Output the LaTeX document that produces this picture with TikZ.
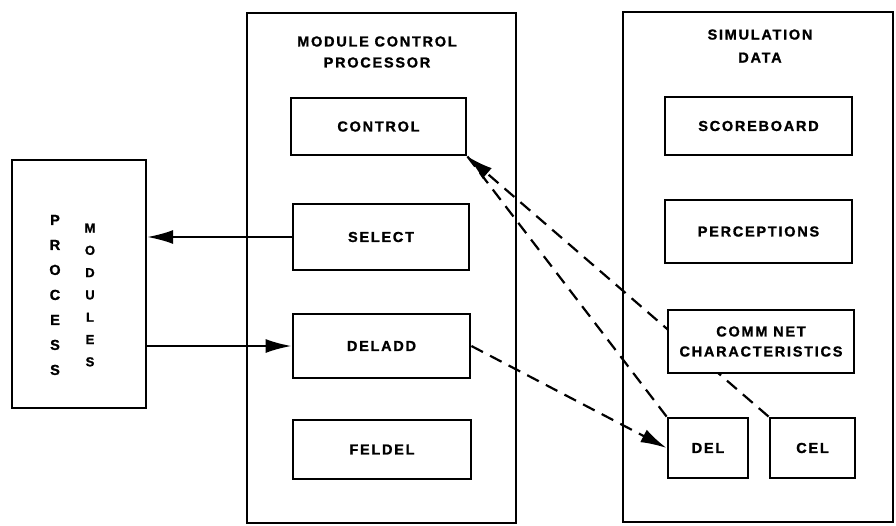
\documentclass[tikz,border=0pt]{standalone}
\usepackage{fontspec}
\setmainfont{Liberation Sans}[LetterSpace=12, BoldFeatures={FakeBold=1.2}]
\usetikzlibrary{arrows.meta}
\begin{document}
\begin{tikzpicture}[x=1pt,y=-1pt,
  outerbox/.style={draw, line width=2.2pt, inner sep=0pt},
  inbox/.style={draw, line width=2.8pt, fill=white, inner sep=0pt, align=center,
    font=\bfseries\fontsize{14.5}{20}\selectfont},
  title/.style={inner sep=0pt, align=center},
  arr/.style={-{Latex[length=26pt,width=14pt]}, line width=2.2pt},
  dsh/.style={dash pattern=on 13pt off 8pt, line width=2.2pt}]
\useasboundingbox (0,0) rectangle (896,525);

% outer containers
\node[outerbox, minimum width=134pt, minimum height=248pt] (pm) at (79,284) {};
\node[outerbox, minimum width=269pt, minimum height=510pt] (mcp) at (381.5,268) {};
\node[outerbox, minimum width=270pt, minimum height=510pt] (sd) at (758,267) {};

\node[title, font=\bfseries\fontsize{14.5}{25}\selectfont] (pword) at (55,295) {P\\R\\O\\C\\E\\S\\S};
\node[title, font=\bfseries\fontsize{13}{22.3}\selectfont] (mword) at (90,295) {M\\O\\D\\U\\L\\E\\S};

\node[title, font=\bfseries\fontsize{14.5}{21}\selectfont] (mcpt) at (377,52) {MODULE CONTROL\\PROCESSOR};
\node[title, font=\bfseries\fontsize{14.5}{23}\selectfont] (sdt) at (760,46) {SIMULATION\\DATA};

% module control processor boxes
\node[inbox, minimum width=175pt, minimum height=57pt] (control) at (378.5,126.5) {CONTROL};
\node[inbox, minimum width=176pt, minimum height=66pt] (select) at (381,237) {SELECT};
\node[inbox, minimum width=177pt, minimum height=64pt] (deladd) at (381.5,346) {DELADD};
\node[inbox, minimum width=178pt, minimum height=59pt] (feldel) at (382,449.5) {FELDEL};

% simulation data boxes
\node[inbox, minimum width=187pt, minimum height=58pt] (score) at (758.5,126) {SCOREBOARD};
\node[inbox, minimum width=187pt, minimum height=63pt] (percep) at (758.5,231.5) {PERCEPTIONS};
\node[inbox, minimum width=80pt, minimum height=60pt] (del) at (708,448) {DEL};
\node[inbox, minimum width=85pt, minimum height=60pt] (cel) at (812.5,448) {CEL};

% solid connectors
\draw[arr] (select.west) -- (select.west -| pm.east);
\draw[arr] (deladd.west -| pm.east) -- (deladd.west);

% dashed connectors
\draw[dsh, arr] (cel.north west) -- (control.south east);
\draw[dsh] (del.north west) -- (control.south east);
\draw[dsh, arr] (deladd.east) -- (del.west);

% comm net box drawn last so that it hides the line passing behind it
\node[inbox, minimum width=186pt, minimum height=63pt] (comm) at (761,341.5) {COMM NET\\CHARACTERISTICS};
\end{tikzpicture}
\end{document}
